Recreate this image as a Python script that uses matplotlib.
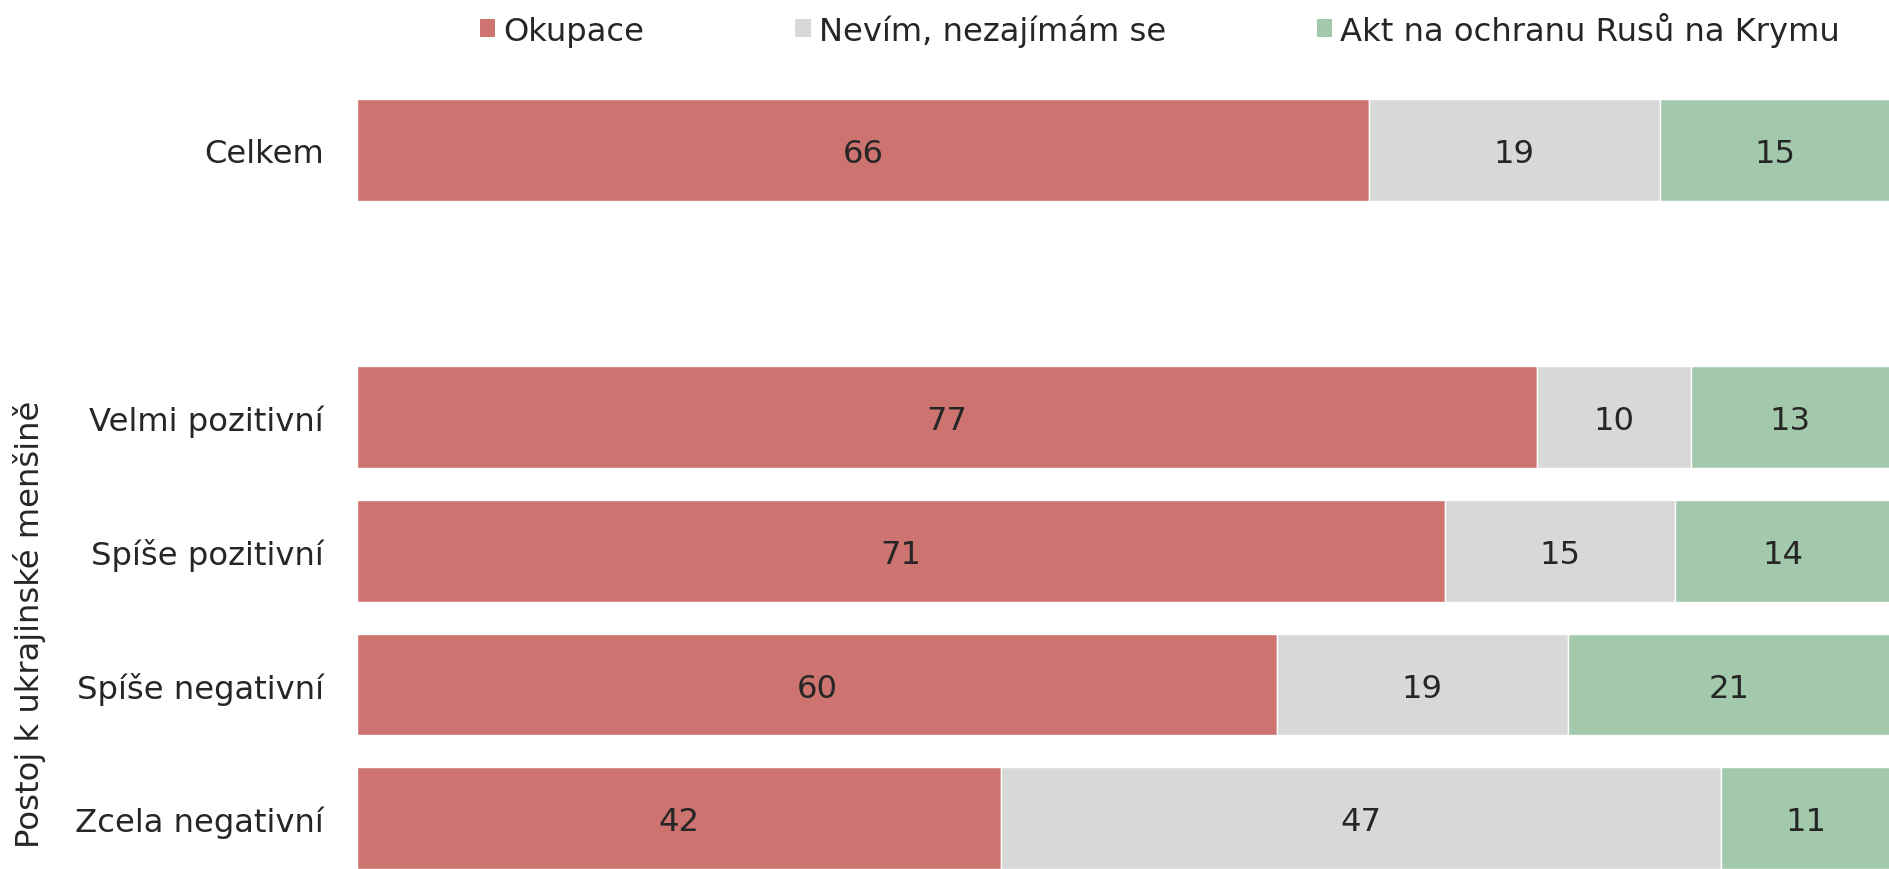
import numpy as np
import matplotlib.pyplot as plt
from matplotlib.patches import Patch

# data
categories = ["Celkem", "", "Velmi pozitivní", "Spíše pozitivní", "Spíše negativní", "Zcela negativní"]
okupace = [66, np.nan, 77, 71, 60, 42]
nevim = [19, np.nan, 10, 15, 19, 47]
akt = [15, np.nan, 13, 14, 21, 11]
series_labels = ["Okupace", "Nevím, nezajímám se", "Akt na ochranu Rusů na Krymu"]
colors = ["#CD7370", "#D8D8D8", "#A3C9AC"]
ylabel = "Postoj k ukrajinské menšině"

TEXT = "#262626"
FS = 23.2
plt.rcParams['font.family'] = ['DejaVu Sans']
plt.rcParams['font.size'] = FS

fig = plt.figure(figsize=(18.9, 8.7), dpi=100)
ax = fig.add_axes([357 / 1890, 0, 1 - 357 / 1890, 770 / 870])

y = np.arange(len(categories))
left = np.zeros(len(categories))
for vals, col in zip([okupace, nevim, akt], colors):
    v = np.array(vals, dtype=float)
    ax.barh(y, np.nan_to_num(v), left=left, height=0.76, color=col,
            edgecolor="white", linewidth=1)
    for yi, l, w in zip(y, left, v):
        if not np.isnan(w):
            ax.text(l + w / 2, yi, f"{w:.0f}", ha="center", va="center_baseline",
                    color=TEXT, fontsize=FS)
    left += np.nan_to_num(v)

ax.set_xlim(0, 100)
ax.set_ylim(5.38, -0.38)
ax.set_yticks(y)
ax.set_yticklabels(categories, color=TEXT, fontsize=FS)
ax.tick_params(axis="y", length=0, pad=24)
ax.set_xticks([])
for s in ax.spines.values():
    s.set_visible(False)

fig.text(30 / 1890, 1 - 624 / 870, ylabel, rotation=90, ha="center", va="center",
         color=TEXT, fontsize=FS)

handles = [Patch(facecolor=c, edgecolor="none", label=l) for c, l in zip(colors, series_labels)]
fig.legend(handles=handles, loc="center", bbox_to_anchor=(1160 / 1890, 1 - 30 / 870),
           ncol=3, frameon=False, handlelength=0.47, handleheight=0.47,
           handletextpad=0.25, columnspacing=4.7, fontsize=FS, labelcolor=TEXT,
           borderpad=0)

fig.savefig("out.png", dpi=100)
